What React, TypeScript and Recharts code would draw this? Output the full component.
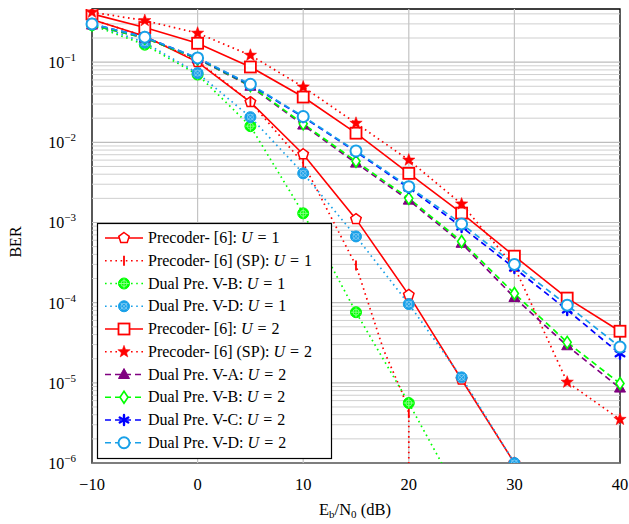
import React from "react";
import { LineChart, Line, XAxis, YAxis, ReferenceLine, ReferenceArea } from "recharts";

const snr = [-10, -5, 0, 5, 10, 15, 20, 25, 30, 35, 40];
const xTicks = [-10, 0, 10, 20, 30, 40];
const yTicks = [1e-6, 1e-5, 1e-4, 1e-3, 1e-2, 1e-1];

const precU1 = [0.34, 0.21, 0.1, 0.0317, 0.0071, 0.0011, 1.25e-4, 1.1e-5, 1e-6];
const spU1X = [-10, -5, 0, 5, 10, 15, 17.6, 19.4, 20, 20];
const spU1 = [0.34, 0.21, 0.103, 0.032, 0.0055, 2.9e-4, 2.6e-5, 7.4e-6, 4.2e-6, 1e-9];
const dvbU1 = [0.29, 0.165, 0.07, 0.0159, 0.0013, 7.6e-5, 5.6e-6, 3.5e-7];
const dvdU1 = [0.3, 0.175, 0.073, 0.0206, 0.0041, 6.7e-4, 9.6e-5, 1.17e-5, 1e-6];
const precU2 = [0.4, 0.27, 0.172, 0.087, 0.0367, 0.013, 0.0041, 0.00131, 3.8e-4, 1.14e-4, 4.4e-5];
const spU2 = [0.42, 0.33, 0.23, 0.122, 0.049, 0.0173, 0.006, 0.0017, 2.8e-4, 1.02e-5, 3.5e-6];
const dvaU2 = [0.29, 0.2, 0.11, 0.05, 0.0164, 0.0055, 0.0019, 5.5e-4, 1.16e-4, 2.9e-5, 8.6e-6];
const dvbU2 = [0.29, 0.2, 0.11, 0.051, 0.017, 0.0058, 0.002, 5.8e-4, 1.3e-4, 3.2e-5, 9.8e-6];
const dvcU2 = [0.3, 0.205, 0.112, 0.052, 0.0206, 0.0076, 0.0027, 8.8e-4, 2.7e-4, 8.1e-5, 2.3e-5];
const dvdU2 = [0.3, 0.205, 0.113, 0.053, 0.021, 0.0078, 0.0028, 9.6e-4, 3.0e-4, 9.3e-5, 2.8e-5];

const RED = "#ff0000";
const LIME = "#00ff00";
const CYAN = "#18a0e8";
const BLUE = "#0000ff";
const PURPLE = "#800080";
const FONT = "Liberation Serif, DejaVu Serif, serif";
const DOTTED = "1.6 3.6";
const DASHED = "6 4";

const YMIN = 1e-6;
const YMAX = 0.46;

type Shape = "pentagon" | "bar" | "oplus" | "otimes" | "square" | "star" | "triangle" | "diamond" | "asterisk" | "circle";

const series = [
  { name: "Precoder- [6]: ", u: 1, xs: snr, ys: precU1, color: RED, dash: undefined, shape: "pentagon" as Shape },
  { name: "Precoder- [6] (SP): ", u: 1, xs: spU1X, ys: spU1, color: RED, dash: DOTTED, shape: "bar" as Shape },
  { name: "Dual Pre. V-B: ", u: 1, xs: snr, ys: dvbU1, color: LIME, dash: DOTTED, shape: "oplus" as Shape },
  { name: "Dual Pre. V-D: ", u: 1, xs: snr, ys: dvdU1, color: CYAN, dash: DOTTED, shape: "otimes" as Shape },
  { name: "Precoder- [6]: ", u: 2, xs: snr, ys: precU2, color: RED, dash: undefined, shape: "square" as Shape },
  { name: "Precoder- [6] (SP): ", u: 2, xs: snr, ys: spU2, color: RED, dash: DOTTED, shape: "star" as Shape },
  { name: "Dual Pre. V-A: ", u: 2, xs: snr, ys: dvaU2, color: PURPLE, dash: DASHED, shape: "triangle" as Shape },
  { name: "Dual Pre. V-B: ", u: 2, xs: snr, ys: dvbU2, color: LIME, dash: DASHED, shape: "diamond" as Shape },
  { name: "Dual Pre. V-C: ", u: 2, xs: snr, ys: dvcU2, color: BLUE, dash: DASHED, shape: "asterisk" as Shape },
  { name: "Dual Pre. V-D: ", u: 2, xs: snr, ys: dvdU2, color: CYAN, dash: DASHED, shape: "circle" as Shape },
];

const minorGrid: number[] = [];
for (let k = -6; k <= -1; k++) {
  for (let m = 2; m <= 9; m++) {
    const v = m * Math.pow(10, k);
    if (v < YMAX) minorGrid.push(v);
  }
}

function Mark({ shape, color, cx, cy }: { shape: Shape; color: string; cx: number; cy: number }) {
  switch (shape) {
    case "pentagon": {
      const pts = [0, 1, 2, 3, 4].map((i) => {
        const a = -Math.PI / 2 + (i * 2 * Math.PI) / 5;
        return `${cx + 5.5 * Math.cos(a)},${cy + 5.5 * Math.sin(a)}`;
      });
      return <polygon points={pts.join(" ")} fill="#fff" stroke={color} strokeWidth={1.5} />;
    }
    case "bar":
      return <line x1={cx} x2={cx} y1={cy - 5} y2={cy + 5} stroke={color} strokeWidth={1.8} />;
    case "oplus":
      return (
        <g>
          <circle cx={cx} cy={cy} r={5.5} fill={color} stroke={color} />
          <circle cx={cx} cy={cy} r={3} fill="none" stroke="#9cff9c" strokeWidth={0.8} />
          <line x1={cx - 5} x2={cx + 5} y1={cy} y2={cy} stroke="#9cff9c" strokeWidth={0.8} />
          <line x1={cx} x2={cx} y1={cy - 5} y2={cy + 5} stroke="#9cff9c" strokeWidth={0.8} />
        </g>
      );
    case "otimes":
      return (
        <g>
          <circle cx={cx} cy={cy} r={5.5} fill={color} stroke={color} />
          <circle cx={cx} cy={cy} r={3} fill="none" stroke="#8fd0f5" strokeWidth={0.8} />
          <line x1={cx - 3.5} x2={cx + 3.5} y1={cy - 3.5} y2={cy + 3.5} stroke="#8fd0f5" strokeWidth={0.8} />
          <line x1={cx - 3.5} x2={cx + 3.5} y1={cy + 3.5} y2={cy - 3.5} stroke="#8fd0f5" strokeWidth={0.8} />
        </g>
      );
    case "square":
      return <rect x={cx - 5.5} y={cy - 5.5} width={11} height={11} fill="#fff" stroke={color} strokeWidth={1.8} />;
    case "star": {
      const pts: string[] = [];
      for (let i = 0; i < 10; i++) {
        const r = i % 2 === 0 ? 6.5 : 2.7;
        const a = -Math.PI / 2 + (i * Math.PI) / 5;
        pts.push(`${cx + r * Math.cos(a)},${cy + r * Math.sin(a)}`);
      }
      return <polygon points={pts.join(" ")} fill={color} stroke={color} strokeWidth={0.5} />;
    }
    case "triangle":
      return <polygon points={`${cx},${cy - 6} ${cx - 5.5},${cy + 4} ${cx + 5.5},${cy + 4}`} fill={color} stroke={color} />;
    case "diamond":
      return <polygon points={`${cx},${cy - 6} ${cx + 4},${cy} ${cx},${cy + 6} ${cx - 4},${cy}`} fill="#fff" stroke={color} strokeWidth={1.6} />;
    case "asterisk":
      return (
        <g stroke={color} strokeWidth={2.4} strokeLinecap="round">
          <line x1={cx} x2={cx} y1={cy - 5} y2={cy + 5} />
          <line x1={cx - 4.3} x2={cx + 4.3} y1={cy - 2.5} y2={cy + 2.5} />
          <line x1={cx - 4.3} x2={cx + 4.3} y1={cy + 2.5} y2={cy - 2.5} />
        </g>
      );
    case "circle":
      return <circle cx={cx} cy={cy} r={5.5} fill="#fff" stroke={color} strokeWidth={2} />;
  }
  return null;
}

const YTick = ({ x, y, payload }: any) => {
  const exp = Math.round(Math.log10(payload.value));
  return (
    <text x={x - 8} y={y + 6} textAnchor="end" style={{ fontFamily: FONT }} fontSize={16} fill="#000">
      10
      <tspan dy={-7} fontSize={11}>{"\u2212" + Math.abs(exp)}</tspan>
    </text>
  );
};

const XTick = ({ x, y, payload }: any) => {
  const v = payload.value as number;
  const s = v < 0 ? "\u2212" + Math.abs(v) : String(v);
  return (
    <text x={x} y={y + 19} textAnchor="middle" style={{ fontFamily: FONT }} fontSize={16.5} fill="#000">
      {s}
    </text>
  );
};

export default function App() {
  return (
    <div style={{ position: "absolute", left: 0, top: 0, width: 629, height: 524, background: "#fff", fontFamily: FONT }}>
      <LineChart width={629} height={524} margin={{ top: 9, right: 9, bottom: 0, left: 0 }} style={{ fontFamily: FONT }}>
        <XAxis dataKey="x" type="number" domain={[-10, 40]} ticks={xTicks} interval={0} tick={<XTick />} tickLine={false} axisLine={false} height={61} allowDuplicatedCategory={false} />
        <YAxis type="number" scale="log" domain={[YMIN, YMAX]} allowDataOverflow ticks={yTicks} interval={0} tick={<YTick />} tickLine={false} axisLine={false} width={92} />
        {minorGrid.map((v) => (
          <ReferenceLine key={"m" + v} y={v} stroke="#cfcfcf" strokeWidth={1} />
        ))}
        {yTicks.map((v) => (
          <ReferenceLine key={"M" + v} y={v} stroke="#bdbdbd" strokeWidth={1.2} />
        ))}
        {xTicks.slice(1, 5).map((v) => (
          <ReferenceLine key={"x" + v} x={v} stroke="#c4c4c4" strokeWidth={1.2} />
        ))}
        <ReferenceArea x1={-10} x2={40} y1={YMIN} y2={YMAX} fill="none" fillOpacity={0} stroke="#000" strokeWidth={1.3} />
        {series.map((s, si) => {
          const data = s.xs.map((x, i) => ({ x, y: s.ys[i] })).filter((d) => d.y !== undefined);
          return (
            <Line
              key={si}
              data={data}
              dataKey="y"
              type="linear"
              stroke={s.color}
              strokeWidth={s.dash ? 1.7 : 1.6}
              strokeDasharray={s.dash}
              isAnimationActive={false}
              activeDot={false}
              dot={(p: any) => {
                const show = p.payload && p.payload.x % 5 === 0 && p.payload.y >= YMIN && p.cy != null;
                return (
                  <g key={`d${si}-${p.index}`}>
                    {show ? <Mark shape={s.shape} color={s.color} cx={p.cx} cy={p.cy} /> : null}
                  </g>
                );
              }}
            />
          );
        })}
      </LineChart>

      <svg width={629} height={524} style={{ position: "absolute", left: 0, top: 0, pointerEvents: "none", fontFamily: FONT }}>
        <text x={355} y={515} textAnchor="middle" fontSize={16.5} fill="#000">
          E<tspan dy={3} fontSize={11}>b</tspan>
          <tspan dy={-3}>/N</tspan>
          <tspan dy={3} fontSize={11}>0</tspan>
          <tspan dy={-3}> (dB)</tspan>
        </text>
        <text x={0} y={0} transform="translate(21,242) rotate(-90)" textAnchor="middle" fontSize={16} fill="#000">
          BER
        </text>

        <g transform="translate(97,223)">
          <rect x={0.5} y={0.5} width={234} height={235} fill="#fff" stroke="#000" strokeWidth={1.2} />
          {series.map((s, i) => {
            const cy = 15 + i * 22.75;
            return (
              <g key={i}>
                <line x1={8} x2={46} y1={cy} y2={cy} stroke={s.color} strokeWidth={1.7} strokeDasharray={s.dash} />
                <Mark shape={s.shape} color={s.color} cx={27} cy={cy} />
                <text x={51} y={cy + 5} fontSize={16} fill="#000">
                  {s.name}
                  <tspan fontStyle="italic">U</tspan>
                  <tspan dx={5}>=</tspan>
                  <tspan dx={5}>{String(s.u)}</tspan>
                </text>
              </g>
            );
          })}
        </g>
      </svg>
    </div>
  );
}
